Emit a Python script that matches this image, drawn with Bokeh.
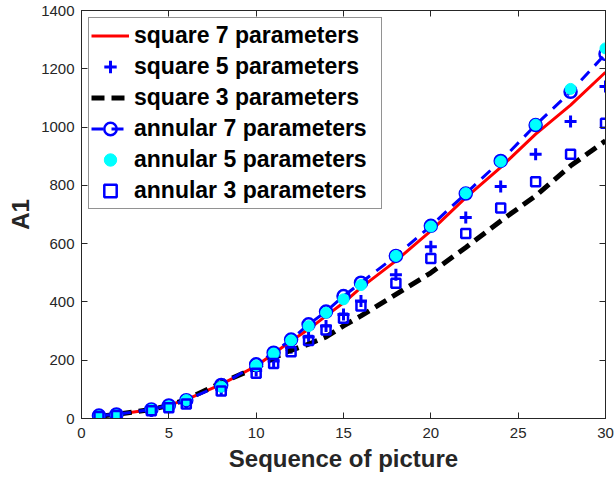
from bokeh.plotting import figure
from bokeh.models import LinearAxis, Range1d, Legend, LegendItem, FixedTicker
from bokeh.embed import file_html
from bokeh.resources import INLINE

# ---- data ----
seq = [1, 2, 4, 5, 6, 8, 10, 11, 12, 13, 14, 15, 16, 18, 20, 22, 24, 26, 28, 30]
square7 = [10, 14, 31, 46, 65, 117, 180, 223, 266, 306, 352, 397, 449, 541, 644, 758, 862, 976, 1075, 1188]
square5 = [8, 11, 27, 39, 56, 100, 165, 197, 243, 280, 317, 357, 403, 493, 589, 690, 796, 907, 1019, 1139]
square3 = [8, 14, 31, 45, 65, 123, 174, 208, 234, 255, 280, 318, 352, 426, 500, 587, 678, 764, 867, 953]
annular7 = [10, 14, 31, 45, 63, 115, 186, 226, 271, 323, 367, 420, 466, 558, 661, 772, 884, 1007, 1121, 1251]
annular5 = [8, 11, 30, 42, 63, 109, 182, 223, 268, 317, 363, 409, 458, 558, 659, 773, 882, 1008, 1131, 1270]
annular3 = [7, 10, 27, 37, 50, 94, 155, 189, 229, 268, 304, 344, 386, 464, 549, 635, 722, 812, 907, 1013]
x_ticks = [0, 5, 10, 15, 20, 25, 30]
y_ticks = [0, 200, 400, 600, 800, 1000, 1200, 1400]

AX = "#262626"
FONT = "Liberation Sans"

p = figure(width=615, height=479, output_backend="svg", toolbar_location=None,
           x_range=Range1d(0, 30), y_range=Range1d(0, 1400),
           min_border_left=81, min_border_right=10, min_border_top=10, min_border_bottom=61)
p.grid.visible = False
p.outline_line_color = AX
p.background_fill_color = "white"

r_sq7 = p.line(seq, square7, line_color="red", line_width=3)
r_sq5 = p.scatter(seq, square5, marker="cross", size=12, line_color="blue", line_width=3)
r_sq3 = p.line(seq, square3, line_color="black", line_width=5, line_dash="13 7")
r_an7l = p.line(seq, annular7, line_color="blue", line_width=3, line_dash="12 8")
r_an7m = p.scatter(seq, annular7, marker="circle", size=12, line_color="blue", line_width=2.5,
                   fill_color=None)
r_an5 = p.scatter(seq, annular5, marker="circle", size=11, line_color="cyan", fill_color="cyan")
r_an3 = p.scatter(seq, annular3, marker="square", size=9, line_color="blue", line_width=2.5,
                  fill_color=None)

for ax in (p.xaxis[0], p.yaxis[0]):
    ax.axis_line_color = AX
    ax.major_tick_line_color = AX
    ax.major_tick_in = 6
    ax.major_tick_out = 0
    ax.minor_tick_line_color = None
    ax.major_label_text_font = FONT
    ax.major_label_text_font_size = "15px"
    ax.major_label_text_color = AX
    ax.axis_label_text_font = FONT
    ax.axis_label_text_font_style = "bold"
    ax.axis_label_text_font_size = "24px"
    ax.axis_label_text_color = AX
    ax.axis_label_standoff = 4

p.xaxis[0].ticker = FixedTicker(ticks=x_ticks)
p.yaxis[0].ticker = FixedTicker(ticks=y_ticks)
p.xaxis[0].axis_label = "Sequence of picture"
p.yaxis[0].axis_label = "A1"
p.xaxis[0].major_label_standoff = 9
p.yaxis[0].major_label_standoff = 7

for loc, tks in (("above", x_ticks), ("right", y_ticks)):
    ax = LinearAxis(ticker=FixedTicker(ticks=tks))
    ax.axis_line_color = AX
    ax.major_tick_line_color = AX
    ax.major_tick_in = 6
    ax.major_tick_out = 0
    ax.minor_tick_line_color = None
    ax.major_label_overrides = {t: "" for t in tks}
    ax.major_label_standoff = 0
    p.add_layout(ax, loc)

legend = Legend(items=[
    LegendItem(label="square 7 parameters", renderers=[r_sq7]),
    LegendItem(label="square 5 parameters", renderers=[r_sq5]),
    LegendItem(label="square 3 parameters", renderers=[r_sq3]),
    LegendItem(label="annular 7 parameters", renderers=[r_an7l, r_an7m]),
    LegendItem(label="annular 5 parameters", renderers=[r_an5]),
    LegendItem(label="annular 3 parameters", renderers=[r_an3]),
], location="top_left")
legend.margin = 7
legend.padding = 2
legend.spacing = 0
legend.glyph_width = 38
legend.glyph_height = 31
legend.label_height = 31
legend.label_standoff = 5
legend.label_width = 245
legend.label_text_font = FONT
legend.label_text_font_style = "bold"
legend.label_text_font_size = "23px"
legend.label_text_color = "black"
legend.border_line_color = AX
legend.border_line_width = 1
legend.background_fill_color = "white"
legend.background_fill_alpha = 1
p.add_layout(legend)

open("out.html", "w").write(file_html(p, INLINE))
